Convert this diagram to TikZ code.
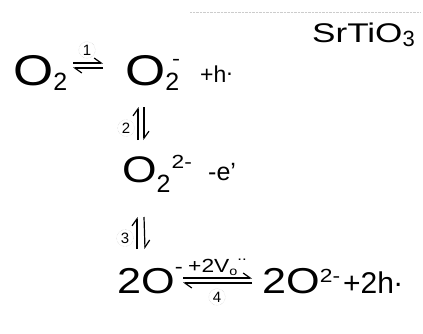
\documentclass[tikz,border=0pt]{standalone}
\usepackage{fontspec}
\setmainfont{Liberation Sans}
\newfontfamily\widef{Liberation Sans}[FakeStretch=1.2]
\newfontfamily\xwidef{Liberation Sans}[FakeStretch=1.3]
\usetikzlibrary{arrows.meta}
\newcommand{\fs}[1]{\fontsize{#1}{#1}\selectfont}
\newcommand{\lo}[3]{\raisebox{-#1pt}{\rmfamily\fs{#2}#3}}
\newcommand{\hi}[3]{\raisebox{#1pt}{\fs{#2}#3}}
\newcommand{\hole}{\raisebox{7pt}{.}}

\begin{document}
\begin{tikzpicture}[x=1pt,y=-1pt,
    every node/.style={inner sep=0pt,anchor=base west},
    num/.style={circle,draw=gray!50,densely dotted,inner sep=1.2pt,anchor=center,font=\fs{15}},
    eq/.style={-{Straight Barb[harpoon,length=7pt,width=10pt]},line width=1.2pt}]
    \useasboundingbox (0,0) rectangle (423,333);
    \draw[gray!40,densely dotted] (190,12) -- (420,12);

    \node (sto) at (312,42) {\xwidef\fs{27}SrTiO\lo{4}{22}{3}};

    \node (o2) at (13,85) {\widef\fs{43}O\lo{5}{25}{2}};
    \node (o2m) at (125,85) {\widef\fs{43}O\lo{5}{25}{2}\kern-7pt\hi{20}{20}{-}};
    \node (h1) at (200,82) {\fs{23}+h\hole};

    \node (o22) at (122,182) {\widef\fs{37}O\lo{10}{25}{2}\kern1pt\hi{14}{19}{2-}};
    \node (e1) at (208,180) {\fs{25}-e'};

    \node (o2b) at (117,293) {\widef\fs{36}2O\hi{20}{20}{-}};
    \node (o2c) at (262,293) {\widef\fs{36}2O\hi{11}{19}{2-}};
    \node (h2) at (343,293) {\fs{30}+2h\hole};

    % reaction arrows
    \draw[eq] ([shift={(60pt,22pt)}]o2.base west) -- ([shift={(-22pt,22pt)}]o2m.base west);
    \draw[eq] ([shift={(-22pt,17pt)}]o2m.base west) -- ([shift={(60pt,17pt)}]o2.base west);
    \draw[eq] ([shift={(16pt,42pt)}]o22.base west) -- ([shift={(13pt,-22pt)}]o2m.base west);
    \draw[eq] ([shift={(19pt,-22pt)}]o2m.base west) -- ([shift={(22pt,42pt)}]o22.base west);
    \draw[eq] ([shift={(20pt,44pt)}]o2b.base west) -- ([shift={(15pt,-35pt)}]o22.base west);
    \draw[eq] ([shift={(22pt,-35pt)}]o22.base west) -- ([shift={(28pt,44pt)}]o2b.base west);
    \draw[eq] ([shift={(66pt,15pt)}]o2b.base west) -- ([shift={(-10pt,15pt)}]o2c.base west);
    \draw[eq] ([shift={(-10pt,10pt)}]o2c.base west) -- ([shift={(66pt,10pt)}]o2b.base west);

    \node[num] (n1) at (87,50) {1};
    \node[num] (n2) at (126,128) {2};
    \node[num] (n3) at (125,238) {3};
    \node[num] (n4) at (217,297) {4};
    \node (vo) at (188,272) {\widef\fs{19}+2V\raisebox{-3pt}{\fs{12}o}\raisebox{12pt}{\fs{14}..}};
\end{tikzpicture}
\end{document}
